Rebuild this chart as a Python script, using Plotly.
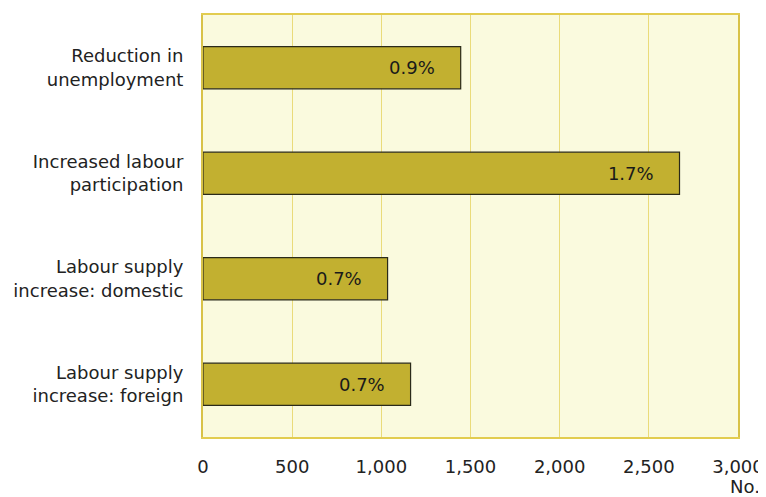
import plotly.graph_objects as go

categories = ["Reduction in<br>unemployment", "Increased labour<br>participation",
              "Labour supply<br>increase: domestic", "Labour supply<br>increase: foreign"]
values = [1445, 2672, 1035, 1164]
labels = ["0.9%", "1.7%", "0.7%", "0.7%"]
tick_vals = [0, 500, 1000, 1500, 2000, 2500, 3000]
tick_text = ["0", "500", "1,000", "1,500", "2,000", "2,500", "3,000"]

FONT = "DejaVu Sans, Verdana, sans-serif"
PAD = "\u00a0" * 4

fig = go.Figure(go.Bar(
    x=values, y=categories, orientation="h", width=0.4,
    marker=dict(color="#C2B030", line=dict(color="#2a2a1a", width=1.2)),
    text=[l + PAD for l in labels], textposition="inside", insidetextanchor="end",
    textfont=dict(family=FONT, size=18, color="#1a1a1a"),
    hoverinfo="skip",
))

fig.update_layout(
    width=766, height=497,
    margin=dict(l=194.7, r=36.3, t=6.7, b=68.3),
    paper_bgcolor="white", plot_bgcolor="#FAFADE",
    showlegend=False,
    font=dict(family=FONT, size=18, color="#222222"),
    xaxis=dict(range=[0, 3000], tickvals=tick_vals, ticktext=tick_text,
               showgrid=True, gridcolor="#EADB7A", gridwidth=1.3,
               showline=True, linecolor="#E2CC50", linewidth=2, mirror=True,
               ticks="outside", ticklen=12, tickcolor="rgba(0,0,0,0)",
               zeroline=False, tickfont=dict(size=18), automargin=False),
    yaxis=dict(autorange="reversed", showgrid=False,
               showline=True, linecolor="#D8C248", linewidth=2, mirror=True,
               ticks="outside", ticklen=14, tickcolor="rgba(0,0,0,0)",
               tickfont=dict(size=18), automargin=False),
    annotations=[dict(text="No.", xref="paper", yref="paper", x=1.045, y=-0.117,
                      xanchor="right", yanchor="middle", showarrow=False,
                      font=dict(size=18, color="#222222"))],
)

fig.write_html("out.html")
